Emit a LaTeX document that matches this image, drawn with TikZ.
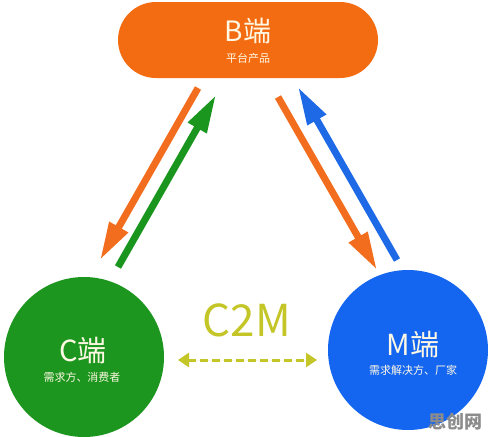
\documentclass[tikz,border=0pt]{standalone}
\usepackage{fontspec}
\setmainfont{Noto Sans CJK SC}
\usetikzlibrary{arrows.meta,shapes.misc}
\definecolor{borange}{RGB}{244,108,18}
\definecolor{aorange}{RGB}{242,110,30}
\definecolor{cgreen}{RGB}{28,150,30}
\definecolor{agreen}{RGB}{26,150,30}
\definecolor{mblue}{RGB}{20,102,240}
\definecolor{ablue}{RGB}{30,106,230}
\definecolor{cyellow}{RGB}{196,198,40}
\definecolor{txt}{RGB}{255,248,228}
\tikzset{
  bigtxt/.style={text=txt, font=\fontsize{29}{29}\selectfont, inner sep=0pt},
  smalltxt/.style={text=txt, font=\fontsize{11}{11}\selectfont, inner sep=0pt},
  fatarrow/.style={line width=7pt, -{Triangle[length=38pt,width=20pt]}},
  endcircle/.style={circle, minimum size=160pt, inner sep=0pt},
}
\begin{document}
\begin{tikzpicture}[x=1pt,y=-1pt]
\useasboundingbox[fill=white] (0,0) rectangle (496,437);
% B end
\node[rounded rectangle, fill=borange, minimum width=260pt, minimum height=76pt, inner sep=0pt] (B) at (248,40) {};
\node[bigtxt, font=\fontsize{28}{28}\selectfont] (Bt) at (248,31) {B端};
\node[smalltxt] (Bs) at (248,58) {平台产品};
% C end
\node[endcircle, fill=cgreen] (C) at (84,357) {};
\node[bigtxt] (Ct) at (83,351) {C端};
\node[smalltxt] (Cs) at (82,377) {需求方、消费者};
% M end
\node[endcircle, fill=mblue] (M) at (408,350) {};
\node[bigtxt] (Mt) at (413,345) {M端};
\node[smalltxt] (Ms) at (413,370) {需求解决方、厂家};
% arrows
\coordinate (o1s) at (198,88);
\coordinate (o1e) at (100,260);
\coordinate (g1s) at (118,267);
\coordinate (g1e) at (216,95);
\coordinate (o2s) at (278,97);
\coordinate (o2e) at (377,270);
\coordinate (b1s) at (397,260);
\coordinate (b1e) at (298,87);
\draw[fatarrow, draw=aorange, fill=aorange] (o1s) -- (o1e);
\draw[fatarrow, draw=agreen, fill=agreen] (g1s) -- (g1e);
\draw[fatarrow, draw=aorange, fill=aorange] (o2s) -- (o2e);
\draw[fatarrow, draw=ablue, fill=ablue] (b1s) -- (b1e);
% C2M
\node[text=cyellow, font=\fontsize{44}{44}\selectfont, inner sep=0pt] (c2m) at (247,320) {C2M};
\coordinate (dl) at (178,360);
\coordinate (dr) at (317,360);
\draw[draw=cyellow, fill=cyellow, line width=3pt, dash pattern=on 8pt off 4pt,
  {Triangle[length=11pt,width=14pt]}-{Triangle[length=11pt,width=14pt]}] (dl) -- (dr);
% watermark
\node[text=black!45, font=\fontsize{18}{18}\selectfont\bfseries, inner sep=0pt] (wm) at (455,422) {思创网};
\end{tikzpicture}
\end{document}
